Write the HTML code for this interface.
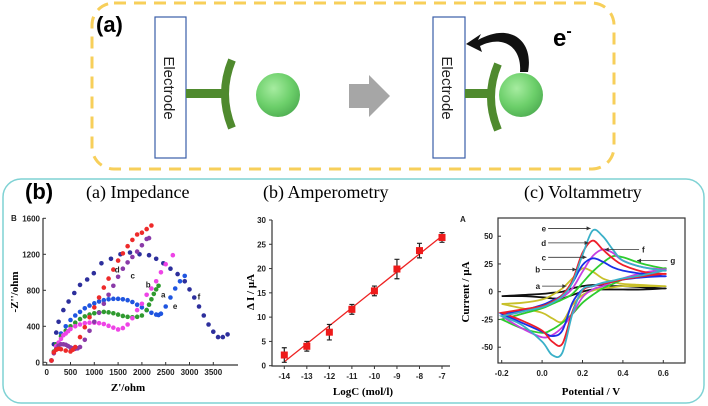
<!DOCTYPE html>
<html><head><meta charset="utf-8"><style>
body{margin:0;background:#fff}
svg{display:block;font-family:"Liberation Sans",sans-serif}
.tk{font-size:8px;font-weight:bold;fill:#222}
.ser{font-family:"Liberation Serif",serif}
</style></head><body>
<svg id="fig" width="708" height="406" viewBox="0 0 708 406">
<defs>
<radialGradient id="sph" cx="0.4" cy="0.35" r="0.7"><stop offset="0" stop-color="#a6eca0"/><stop offset="0.6" stop-color="#6ccf6a"/><stop offset="1" stop-color="#4fae52"/></radialGradient>
</defs>
<g>
<rect x="92" y="3" width="522" height="166" rx="22" fill="none" stroke="#f7cf5a" stroke-width="3" stroke-dasharray="12,8"/>
<text x="96" y="32" font-size="22" font-weight="bold">(a)</text>
<rect x="155" y="17" width="31" height="141" fill="#fff" stroke="#3a5ea8" stroke-width="1.2"/>
<text transform="translate(164,88) rotate(90)" text-anchor="middle" font-size="15" fill="#222">Electrode</text>
<rect x="186" y="89" width="40" height="9" fill="#4f8a2e"/>
<path d="M232,60 Q218,94 232,128" fill="none" stroke="#4f8a2e" stroke-width="8"/>
<circle cx="278" cy="95" r="22" fill="url(#sph)"/>
<path d="M349,84 L369,84 L369,75 L390,96 L369,117 L369,108 L349,108 Z" fill="#a6a6a6"/>
<rect x="433" y="17" width="32" height="141" fill="#fff" stroke="#3a5ea8" stroke-width="1.2"/>
<text transform="translate(442,88) rotate(90)" text-anchor="middle" font-size="15" fill="#222">Electrode</text>
<rect x="465" y="89" width="26" height="9" fill="#4f8a2e"/>
<path d="M498,64 Q484,97 498,130" fill="none" stroke="#4f8a2e" stroke-width="8"/>
<circle cx="521" cy="95" r="22" fill="url(#sph)"/>
<path d="M528,72 C534,40 510,22 478,40 L481,34 L466,44 L482,52 L480,46 C504,34 522,48 520,72 Z" fill="#111"/>
<text x="553" y="46" font-size="24" font-weight="bold">e<tspan font-size="16" dy="-10">-</tspan></text>
</g>
<rect x="3" y="179" width="701" height="224" rx="18" fill="none" stroke="#7fd2d4" stroke-width="1.5"/>
<text x="25" y="199" font-size="22" font-weight="bold">(b)</text>
<text x="86" y="198" font-size="18" class="ser">(a) Impedance</text>
<text x="263" y="198" font-size="18" class="ser">(b) Amperometry</text>
<text x="524" y="198" font-size="18" class="ser">(c) Voltammetry</text>
<g id="imp"></g>
<g id="amp"></g>
<g id="cv"></g>
</svg>
<script>
// ---- Impedance data ----
const impTicksX=[0,500,1000,1500,2000,2500,3000,3500];
const impTicksY=[0,400,800,1200,1600];
const impA_x=[100,150,200,300,400,500,600,700,800,900,1000,1100,1200,1300,1400,1500,1600,1700,1800,1900,2000,2100,2150,2200,2250,2300,2350];
const impA_y=[20,120,200,290,350,400,440,480,510,530,545,555,560,555,545,530,515,505,500,505,520,580,640,700,760,810,850];
const impB_x=[100,150,200,250,300,350,400,450,500,600,700,800,900,1000,1100,1200,1300,1400,1500,1600,1700,1800,1900,2000,2100,2200,2300,2400,2500,2650];
const impB_y=[20,110,180,220,260,300,320,345,370,400,420,435,440,440,435,425,405,385,365,380,420,490,580,650,750,820,900,1000,1090,1190];
const impC_x=[100,150,200,250,300,350,400,450,500,550,600,650,700,800,900,1000,1100,1200,1300,1400,1500,1600,1700,1800,1900,2000,2100,2150];
const impC_y=[20,100,150,185,200,200,195,180,165,155,150,155,170,250,350,450,550,650,750,850,950,1040,1110,1170,1230,1300,1370,1380];
const impD_x=[100,150,200,250,300,400,500,550,600,700,800,900,1000,1100,1200,1300,1400,1500,1600,1700,1800,1900,2000,2100,2200];
const impD_y=[20,110,140,150,145,130,120,140,170,280,390,500,610,720,830,930,1030,1130,1210,1290,1360,1420,1440,1480,1520];
const impE_x=[100,200,300,400,500,600,700,800,900,1000,1100,1200,1300,1400,1500,1600,1700,1800,1900,2000,2100,2200,2300,2350,2400,2500,2600,2700,2800,2900];
const impE_y=[20,200,320,400,470,520,560,600,630,655,675,690,700,705,705,700,690,670,640,610,580,550,530,525,540,620,720,820,900,960];
const impF_x=[100,150,200,250,350,460,580,700,850,990,1150,1350,1550,1750,1950,2150,2300,2450,2600,2750,2900,3000,3100,3200,3300,3400,3500,3600,3700,3800];
const impF_y=[20,200,330,450,580,675,770,860,920,990,1100,1150,1200,1220,1200,1190,1150,1100,1040,980,900,810,720,620,520,420,340,280,280,310];
// ---- Amperometry data ----
const ampX=[-14,-13,-12,-11,-10,-9,-8,-7];
const ampY=[2.2,4.0,6.9,11.6,15.4,19.9,23.7,26.4];
const ampErr=[1.5,1.0,1.6,1.0,1.0,2.0,1.5,1.0];
const ampTicksY=[0,5,10,15,20,25,30];
// ---- Voltammetry data ----
const cvE=[-0.2,-0.1,0,0.05,0.1,0.15,0.2,0.25,0.3,0.35,0.4,0.5,0.6];
const cvTicksX=[-0.2,0.0,0.2,0.4,0.6];
const cvTicksY=[-50,-25,0,25,50];
const cvA_f=[-4,-3,-2,-1,0,3,5,6,6,5,5,4,3];
const cvA_r=[-4,-4,-5,-6,-6,-3,0,2,2,2,2,2,3];
const cvB_f=[-11,-10,-7,-3,3,12,21,18,12,9,7,6,5];
const cvB_r=[-11,-15,-19,-24,-27,-12,-3,1,3,4,5,5,5];
const cvC_f=[-20,-17,-12,-8,-3,8,24,30,27,22,19,16,14];
const cvC_r=[-20,-28,-36,-40,-35,-10,2,5,7,9,11,13,14];
const cvD_f=[-19,-16,-13,-9,-3,10,35,46,38,30,24,18,16];
const cvD_r=[-19,-26,-35,-45,-47,-18,1,5,7,9,11,14,16];
const cvE_f=[-22,-18,-14,-10,-4,8,33,55,50,38,28,22,19];
const cvE_r=[-22,-30,-45,-57,-55,-20,2,5,8,10,12,15,19];
const cvF_f=[-22,-18,-13,-9,-5,3,18,32,38,35,28,22,20];
const cvF_r=[-22,-33,-41,-39,-32,-20,-5,2,5,9,12,17,20];
const cvG_f=[-25,-20,-15,-11,-7,-2,8,18,26,32,31,25,21];
const cvG_r=[-25,-33,-37,-34,-28,-20,-10,-3,3,7,11,16,21];

const NS='http://www.w3.org/2000/svg';
function mk(parent,tag,attrs,txt){const e=document.createElementNS(NS,tag);for(const k in attrs)e.setAttribute(k,attrs[k]);if(txt!==undefined)e.textContent=txt;parent.appendChild(e);return e;}
function smooth(pts){let d='M'+pts[0][0].toFixed(1)+','+pts[0][1].toFixed(1);for(let i=0;i<pts.length-1;i++){const p0=pts[Math.max(0,i-1)],p1=pts[i],p2=pts[i+1],p3=pts[Math.min(pts.length-1,i+2)];const c1=[p1[0]+(p2[0]-p0[0])/6,p1[1]+(p2[1]-p0[1])/6],c2=[p2[0]-(p3[0]-p1[0])/6,p2[1]-(p3[1]-p1[1])/6];d+='C'+c1.map(v=>v.toFixed(1))+' '+c2.map(v=>v.toFixed(1))+' '+p2.map(v=>v.toFixed(1));}return d;}

// ===== Impedance =====
(function(){
const g=document.getElementById('imp');
const X=v=>46.7+v*0.0476, Y=v=>362.3-v*0.09;
const L=43,R=238,T=218,B=365;
let e=mk(g,'path',{d:`M${L},${T}V${B}H${R}`,stroke:'#333','stroke-width':1.2,fill:'none'});

impTicksX.forEach(v=>{mk(g,'line',{x1:X(v),x2:X(v),y1:B,y2:B-3,stroke:'#333'});
 const t=mk(g,'text',{x:X(v),y:B+10,'text-anchor':'middle',class:'tk','font-size':7},v);
 });
impTicksY.forEach(v=>{mk(g,'line',{x1:L,x2:L+3,y1:Y(v),y2:Y(v),stroke:'#333'});
 const t=mk(g,'text',{x:L-3,y:Y(v)+3,'text-anchor':'end',class:'tk','font-size':7},v);
 });
const series=[[impF_x,impF_y,'#2d2f9c','f'],[impE_x,impE_y,'#1f55e0','e'],[impA_x,impA_y,'#2f9a2f','a'],[impB_x,impB_y,'#ee44e6','b'],[impC_x,impC_y,'#8a3aa8','c'],[impD_x,impD_y,'#ee2a2a','d']];
series.forEach(s=>{const sg=mk(g,'g',{fill:s[2]});
 
 s[0].forEach((x,i)=>{const c=mk(sg,'circle',{cx:X(x),cy:Y(s[1][i]),r:2.3});
 });});
[['d',1430,1000],['c',1760,930],['b',2080,830],['a',2400,720],['e',2650,590],['f',3170,700]].forEach(l=>{
 const t=mk(g,'text',{x:X(l[1]),y:Y(l[2]),class:'tk','font-size':9,fill:'#333'},l[0]);
 });
let t=mk(g,'text',{x:11,y:221,class:'tk','font-size':8},'B');
t=mk(g,'text',{transform:'translate(18,292) rotate(-90)','text-anchor':'middle','font-size':11,'font-weight':'bold',class:'ser'},"-Z''/ohm");
t=mk(g,'text',{x:128,y:391,'text-anchor':'middle','font-size':11,'font-weight':'bold',class:'ser'},"Z'/ohm");
})();

// ===== Amperometry =====
(function(){
const g=document.getElementById('amp');
const X=v=>284.3+(v+14)*22.53, Y=v=>365.7-v*4.857;
const L=272,B=366,R=450,T=220;
let e=mk(g,'path',{d:`M${L},${T}V${B}H${R}`,stroke:'#333','stroke-width':1.2,fill:'none'});

ampX.forEach(v=>{mk(g,'line',{x1:X(v),x2:X(v),y1:B,y2:B+3,stroke:'#333'});
 const t=mk(g,'text',{x:X(v),y:B+13,'text-anchor':'middle',class:'tk','font-size':8},v);
 });
ampTicksY.forEach(v=>{mk(g,'line',{x1:L,x2:L-3,y1:Y(v),y2:Y(v),stroke:'#333'});
 const t=mk(g,'text',{x:L-6,y:Y(v)+3,'text-anchor':'end',class:'tk','font-size':8},v);
 });
const n=ampX.length,mx=ampX.reduce((a,b)=>a+b)/n,my=ampY.reduce((a,b)=>a+b)/n;
let sxy=0,sxx=0;ampX.forEach((x,i)=>{sxy+=(x-mx)*(ampY[i]-my);sxx+=(x-mx)**2;});
const k=sxy/sxx,b0=my-k*mx;
e=mk(g,'line',{x1:X(ampX[0]),y1:Y(k*ampX[0]+b0),x2:X(ampX[n-1]),y2:Y(k*ampX[n-1]+b0),stroke:'#ee2222','stroke-width':1.3});

ampX.forEach((x,i)=>{const y=ampY[i],er=ampErr[i];
 const eg=mk(g,'path',{d:`M${X(x)},${Y(y-er)}V${Y(y+er)}M${X(x)-2.5},${Y(y-er)}h5M${X(x)-2.5},${Y(y+er)}h5`,stroke:'#222','stroke-width':1.2,fill:'none'});
 
 const r=mk(g,'rect',{x:X(x)-3.5,y:Y(y)-3.5,width:7,height:7,fill:'#ee1a1a'});
 });
let t=mk(g,'text',{transform:'translate(254,292) rotate(-90)','text-anchor':'middle','font-size':11,'font-weight':'bold',class:'ser'},'Δ I / μA');
t=mk(g,'text',{x:363,y:395,'text-anchor':'middle','font-size':11,'font-weight':'bold',class:'ser'},'LogC (mol/l)');
})();

// ===== Voltammetry =====
(function(){
const g=document.getElementById('cv');
const X=v=>501.7+(v+0.2)*202, Y=v=>291.7-v*1.11;
const L=498,R=685,T=218,B=363;
let e=mk(g,'rect',{x:L,y:T,width:R-L,height:B-T,fill:'none',stroke:'#333','stroke-width':1.2});

cvTicksX.forEach(v=>{mk(g,'line',{x1:X(v),x2:X(v),y1:B,y2:B-3,stroke:'#333'});
 const t=mk(g,'text',{x:X(v),y:B+13,'text-anchor':'middle',class:'tk','font-size':8.5},v.toFixed(1));
 });
cvTicksY.forEach(v=>{mk(g,'line',{x1:L,x2:L+3,y1:Y(v),y2:Y(v),stroke:'#333'});
 const t=mk(g,'text',{x:L-5,y:Y(v)+3,'text-anchor':'end',class:'tk','font-size':8.5},v);
 });
const curves=[[cvA_f,cvA_r,'#111','a'],[cvB_f,cvB_r,'#c8c02a','b'],[cvG_f,cvG_r,'#2ecc2e','g'],[cvF_f,cvF_r,'#c63ee0','f'],[cvC_f,cvC_r,'#1a2ee8','c'],[cvD_f,cvD_r,'#ee1e2a','d'],[cvE_f,cvE_r,'#3ab0c8','e']];
curves.forEach(c=>{const pts=[];cvE.forEach((v,i)=>pts.push([X(v),Y(c[0][i])]));
 for(let i=cvE.length-1;i>=0;i--)pts.push([X(cvE[i]),Y(c[1][i])]);
 const p=mk(g,'path',{d:smooth(pts)+'Z',fill:'none',stroke:c[2],'stroke-width':1.8});
 });
[['e',0.02,57,0.24],['d',0.02,44,0.23],['c',0.02,31,0.22],['b',-0.01,20,0.17],['a',-0.01,5,0.12],['f',0.48,38,0.31],['g',0.62,28,0.47]].forEach(l=>{
 const lg=mk(g,'g',{});
 const right=l[1]>l[3];
 mk(lg,'text',{x:X(l[1])+(right?3:0),y:Y(l[2])+3,'text-anchor':right?'start':'end',class:'tk','font-size':9},l[0]);
 mk(lg,'line',{x1:right?X(l[1]):X(l[1])+2,x2:X(l[3]),y1:Y(l[2]),y2:Y(l[2]),stroke:'#333','stroke-width':0.8});
 mk(lg,'path',{d:right?`M${X(l[3])},${Y(l[2])}l4,-2v4z`:`M${X(l[3])},${Y(l[2])}l-4,-2v4z`,fill:'#333'});});
let t=mk(g,'text',{x:460,y:222,class:'tk','font-size':8},'A');
t=mk(g,'text',{transform:'translate(469,292) rotate(-90)','text-anchor':'middle','font-size':11,'font-weight':'bold',class:'ser'},'Current / μA');
t=mk(g,'text',{x:591,y:395,'text-anchor':'middle','font-size':11,'font-weight':'bold',class:'ser'},'Potential / V');
})();
</script>
</body></html>
